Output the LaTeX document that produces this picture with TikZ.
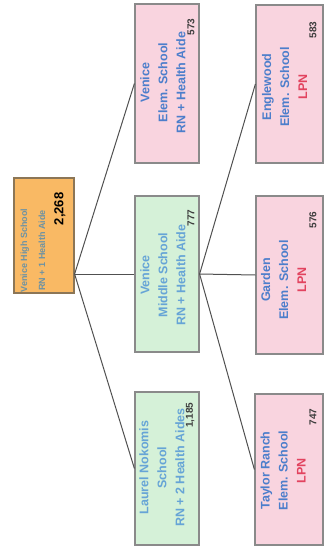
\documentclass[tikz,border=0pt]{standalone}
\usepackage{fontspec}
\setmainfont{Liberation Sans}
\usetikzlibrary{calc}
\definecolor{orfill}{HTML}{F9B964}
\definecolor{ordraw}{HTML}{8C7656}
\definecolor{grfill}{HTML}{D5F1D8}
\definecolor{pkfill}{HTML}{F9D4DF}
\definecolor{bxdraw}{HTML}{8A8A8A}
\definecolor{txblue}{HTML}{4C7ECB}
\definecolor{txlblue}{HTML}{66A4D6}
\definecolor{txroot}{HTML}{6C92A4}
\definecolor{txred}{HTML}{E2435F}
\definecolor{txnum}{HTML}{3C3C3C}
\definecolor{lnc}{HTML}{505050}
\begin{document}
\begin{tikzpicture}[x=1pt,y=-1pt,
  boxbase/.style={draw=bxdraw, line width=1.2pt, inner sep=0pt},
  rootbox/.style={boxbase, draw=ordraw, fill=orfill},
  greenbox/.style={boxbase, fill=grfill},
  pinkbox/.style={boxbase, fill=pkfill},
  label/.style={rotate=90, align=center, inner sep=0pt,
    font=\bfseries\fontsize{12.5}{18}\selectfont},
  numlbl/.style={rotate=90, anchor=south east, inner sep=0pt, text=txnum,
    font=\bfseries\fontsize{10}{12}\selectfont},
  conn/.style={draw=lnc, line width=1pt}
]
\useasboundingbox (0,0) rectangle (325,550);
% boxes
\node[rootbox, minimum width=60pt, minimum height=115pt] (root) at (44,235.5) {};
\node[pinkbox, minimum width=64pt, minimum height=159pt] (vel) at (167,83.5) {};
\node[greenbox, minimum width=64pt, minimum height=156pt] (vm) at (167,274) {};
\node[greenbox, minimum width=64pt, minimum height=153pt] (ln) at (167,468.5) {};
\node[pinkbox, minimum width=67pt, minimum height=158pt] (eng) at (289.5,84) {};
\node[pinkbox, minimum width=67pt, minimum height=158pt] (gar) at (289.5,275) {};
\node[pinkbox, minimum width=68pt, minimum height=151pt] (tr) at (289,469.5) {};
% connectors
\coordinate (j1) at (root.east |- vm.west);
\draw[conn] (j1) -- (vel.west);
\draw[conn] (j1) -- (vm.west);
\draw[conn] (j1) -- (ln.west);
\draw[conn] (vm.east) -- (eng.west);
\draw[conn] (vm.east) -- (gar.west);
\draw[conn] (vm.east) -- (tr.west);
% root text
\node[label, text=txroot, font=\bfseries\fontsize{9}{18}\selectfont] (roott) at ($(root.center)+(-11,15)$) {Venice High School\\RN + 1 Health Aide};
\node[numlbl, font=\bfseries\fontsize{13}{14}\selectfont, text=black] (rootn) at ($(root.north east)+(-9,15)$) {2,268};
% column 2
\node[label, text=txblue] (velt) at ($(vel.center)+(-4,-1)$) {Venice\\Elem. School\\RN + Health Aide};
\node[numlbl] (veln) at ($(vel.north east)+(-5,15)$) {573};
\node[label, text=txlblue] (vmt) at ($(vm.center)+(-4,1)$) {Venice\\Middle School\\RN + Health Aide};
\node[numlbl] (vmn) at ($(vm.north east)+(-5,14)$) {777};
\node[label, text=txlblue] (lnt) at ($(ln.center)+(-5,-1)$) {Laurel Nokomis\\School\\RN + 2 Health Aides};
\node[numlbl] (lnn) at ($(ln.north east)+(-5,11)$) {1,185};
% column 3
\node[label] (engt) at ($(eng.center)+(-5,3)$) {\textcolor{txblue}{Englewood}\\\textcolor{txblue}{Elem. School}\\\textcolor{txred}{LPN}};
\node[numlbl] (engn) at ($(eng.north east)+(-7,17)$) {583};
\node[label] (gart) at ($(gar.center)+(-6,5)$) {\textcolor{txblue}{Garden}\\\textcolor{txblue}{Elem. School}\\\textcolor{txred}{LPN}};
\node[numlbl] (garn) at ($(gar.north east)+(-7,16)$) {576};
\node[label] (trt) at ($(tr.center)+(-6,1)$) {\textcolor{txblue}{Taylor Ranch}\\\textcolor{txblue}{Elem. School}\\\textcolor{txred}{LPN}};
\node[numlbl] (trn) at ($(tr.north east)+(-7,15)$) {747};
\end{tikzpicture}
\end{document}
